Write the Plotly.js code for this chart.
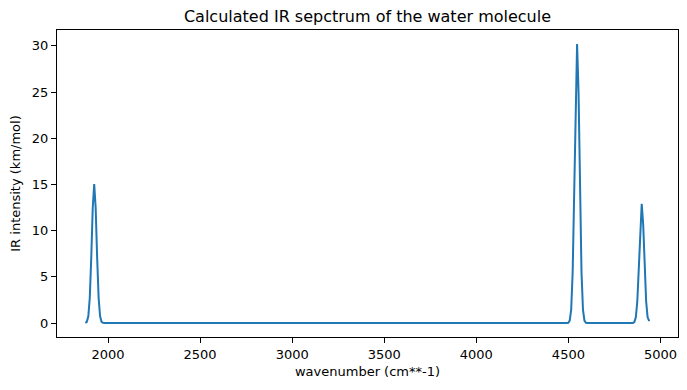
<!DOCTYPE html>
<html>
<head>
<meta charset="utf-8">
<script src="https://cdn.plot.ly/plotly-3.0.1.min.js"></script>
<style>html,body{margin:0;padding:0;background:#fff;}#chart{width:687px;height:390px;}</style>
</head>
<body>
<div id="chart"></div>
<script>
// wavenumbers (cm**-1) and IR intensities (km/mol)
const wavenumber = [
  1877, 1885, 1893, 1901, 1909, 1917, 1925, 1933, 1941, 1949, 1957, 1965, 1973, 1981,
  4491, 4499, 4507, 4515, 4523, 4531, 4539, 4547, 4555, 4563, 4571, 4579, 4587, 4595, 4603,
  4842, 4850, 4858, 4866, 4874, 4882, 4890, 4898, 4906, 4914, 4922, 4930, 4939
];
const intensity = [
  0.02, 0.13, 0.73, 2.74, 7.06, 12.45, 15.05, 12.45, 7.06, 2.74, 0.73, 0.13, 0.02, 0,
  0, 0.03, 0.27, 1.46, 5.50, 14.16, 24.98, 30.2, 24.98, 14.16, 5.50, 1.46, 0.27, 0.03, 0,
  0, 0.01, 0.11, 0.62, 2.35, 6.05, 10.67, 12.9, 10.67, 6.05, 2.35, 0.62, 0.2
];
const xTicks = [2000, 2500, 3000, 3500, 4000, 4500, 5000];
const yTicks = [0, 5, 10, 15, 20, 25, 30];

const font = {family: 'DejaVu Sans, sans-serif', size: 13, color: '#000'};
const axisCommon = {
  showgrid: false, zeroline: false, showline: true, mirror: true,
  linecolor: '#000', linewidth: 1, ticks: 'outside', ticklen: 5, tickwidth: 1,
  tickcolor: '#000', tickfont: font
};

Plotly.newPlot('chart', [{
  x: wavenumber, y: intensity, type: 'scatter', mode: 'lines',
  line: {color: '#1f77b4', width: 2}
}], {
  width: 687, height: 390,
  margin: {l: 57, r: 9, t: 30, b: 53, pad: 0},
  paper_bgcolor: '#fff', plot_bgcolor: '#fff',
  font: font,
  showlegend: false,
  title: {text: 'Calculated IR sepctrum of the water molecule', font: {family: 'DejaVu Sans, sans-serif', size: 16, color: '#000'},
          x: 0.5, xref: 'paper', y: 1 - 16/390, yref: 'container', yanchor: 'middle'},
  xaxis: Object.assign({}, axisCommon, {
    range: [1723, 5095], tickvals: xTicks, ticktext: xTicks.map(String),
    title: {text: 'wavenumber (cm**-1)', font: font, standoff: 6}
  }),
  yaxis: Object.assign({}, axisCommon, {
    range: [-1.51, 31.71], tickvals: yTicks, ticktext: yTicks.map(String),
    title: {text: 'IR intensity (km/mol)', font: font, standoff: 8}
  })
}, {displayModeBar: false, staticPlot: true});
</script>
</body>
</html>
